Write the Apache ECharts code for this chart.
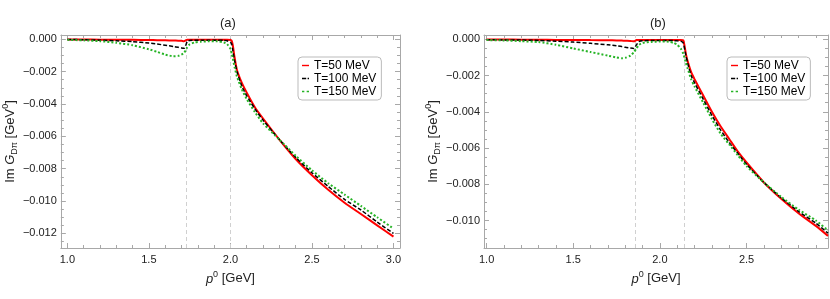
<!DOCTYPE html>
<html><head><meta charset="utf-8">
<script src="https://cdn.jsdelivr.net/npm/echarts@6/dist/echarts.min.js"></script>
<style>html,body{margin:0;padding:0;background:#fff}#c{width:830px;height:299px}</style>
</head><body><div id="c"></div><script>
// ---------- data ----------
const seriesNames = ['T=50 MeV', 'T=100 MeV', 'T=150 MeV'];
const panelTitles = ['(a)', '(b)'];

// panel (a)
const xA = [1.0,1.1,1.2,1.3,1.4,1.5,1.55,1.6,1.65,1.68,1.7,1.715,1.725,1.735,1.75,1.78,1.82,1.87,1.92,1.96,1.98,2.0,2.008,2.015,2.025,2.04,2.07,2.1,2.15,2.2,2.3,2.4,2.5,2.6,2.7,2.8,2.9,3.0];
const redA = [-0.00002,-0.00002,-0.00003,-0.00003,-0.00004,-0.00005,-0.00006,-0.00007,-0.00008,-0.00009,-0.0001,-0.00012,-0.00008,-0.00003,-0.00003,-0.00003,-0.00003,-0.00003,-0.00003,-0.00004,-0.00004,-0.00005,-0.0001,-0.0004,-0.0011,-0.0019,-0.0027,-0.0033,-0.0042,-0.0049,-0.0062,-0.0074,-0.0084,-0.0093,-0.0101,-0.0108,-0.0115,-0.0122];
const blackA = [-0.00002,-0.00003,-0.00006,-0.0001,-0.00015,-0.00024,-0.0003,-0.00037,-0.00045,-0.0005,-0.00054,-0.00056,-0.0004,-0.00015,-0.00008,-0.00007,-0.00006,-0.00006,-0.00006,-0.00007,-0.0001,-0.0002,-0.0003,-0.0007,-0.0013,-0.0020,-0.0029,-0.0035,-0.0043,-0.0050,-0.0062,-0.0073,-0.00825,-0.0091,-0.0099,-0.01055,-0.0113,-0.0120];
const greenA = [-0.00004,-0.00007,-0.00012,-0.00022,-0.00037,-0.00062,-0.00078,-0.00095,-0.00105,-0.00103,-0.00095,-0.00085,-0.0007,-0.0005,-0.00032,-0.0002,-0.00015,-0.00013,-0.00013,-0.0002,-0.0003,-0.0006,-0.0009,-0.0012,-0.0017,-0.0023,-0.0031,-0.0037,-0.0045,-0.0052,-0.0062,-0.0072,-0.0081,-0.0089,-0.0096,-0.0103,-0.0110,-0.0117];
const thresholdsA = [1.725, 2.005];

// panel (b)
const xB = [1.0,1.1,1.2,1.3,1.4,1.5,1.6,1.7,1.75,1.78,1.8,1.83,1.85,1.865,1.88,1.9,1.95,2.0,2.05,2.08,2.1,2.12,2.135,2.15,2.16,2.18,2.2,2.25,2.3,2.35,2.4,2.45,2.5,2.6,2.7,2.8,2.9,2.97];
const redB = [-0.00001,-0.00001,-0.00002,-0.00002,-0.00003,-0.00003,-0.00004,-0.00005,-0.00006,-0.00007,-0.00008,-0.00009,-0.00011,-0.00004,-0.00003,-0.00003,-0.00003,-0.00003,-0.00003,-0.00003,-0.00003,-0.00003,-0.00005,-0.0008,-0.0012,-0.0018,-0.0022,-0.0031,-0.0040,-0.0048,-0.0055,-0.0062,-0.0068,-0.0079,-0.0088,-0.0096,-0.0103,-0.01085];
const blackB = [-0.00002,-0.00003,-0.00004,-0.00006,-0.0001,-0.00015,-0.00022,-0.0003,-0.00036,-0.0004,-0.00044,-0.00048,-0.0005,-0.0003,-0.00012,-0.00008,-0.00006,-0.00006,-0.00006,-0.00007,-0.00008,-0.0001,-0.0002,-0.0009,-0.0013,-0.0020,-0.0024,-0.0033,-0.0042,-0.0050,-0.0057,-0.0063,-0.0069,-0.0079,-0.00875,-0.0095,-0.01015,-0.0107];
const greenB = [-0.00004,-0.00006,-0.0001,-0.00015,-0.0003,-0.0005,-0.0007,-0.0009,-0.001,-0.00104,-0.00102,-0.0009,-0.0007,-0.0005,-0.0003,-0.0002,-0.00014,-0.00012,-0.00013,-0.0002,-0.0003,-0.0005,-0.0008,-0.0013,-0.0016,-0.0022,-0.0026,-0.0035,-0.0044,-0.0052,-0.0058,-0.0064,-0.0070,-0.0079,-0.0087,-0.0094,-0.0100,-0.01055];
const thresholdsB = [1.862, 2.14];

// tick values
const xMajorA = [1.0,1.5,2.0,2.5,3.0];
const xMinorA = [1.1,1.2,1.3,1.4,1.6,1.7,1.8,1.9,2.1,2.2,2.3,2.4,2.6,2.7,2.8,2.9];
const yMajorA = [0,-0.002,-0.004,-0.006,-0.008,-0.010,-0.012];
const yMinorA = [-0.0005,-0.001,-0.0015,-0.0025,-0.003,-0.0035,-0.0045,-0.005,-0.0055,-0.0065,-0.007,-0.0075,-0.0085,-0.009,-0.0095,-0.0105,-0.011,-0.0115,-0.0125];
const xMajorB = [1.0,1.5,2.0,2.5];
const xMinorB = [1.1,1.2,1.3,1.4,1.6,1.7,1.8,1.9,2.1,2.2,2.3,2.4,2.6,2.7,2.8,2.9];
const yMajorB = [0,-0.002,-0.004,-0.006,-0.008,-0.010];
const yMinorB = [-0.0005,-0.001,-0.0015,-0.0025,-0.003,-0.0035,-0.0045,-0.005,-0.0055,-0.0065,-0.007,-0.0075,-0.0085,-0.009,-0.0095,-0.0105,-0.011];

// ---------- chart ----------
const FONT = 'Liberation Sans, Arial, sans-serif';
const AXC = '#a8a8a8';
const TXT = '#222';
const colors = ['#ff0000', '#000000', '#26b426'];
const lineStyles = [
  {width: 2, type: 'solid'},
  {width: 1.5, type: [4, 2]},
  {width: 2, type: [2, 2]}
];
const legendIcons = [
  'path://M0,0H10V2H0Z',
  'path://M0,0H6V2H0Z M8,0H10V2H8Z',
  'path://M0,0H3V2H0Z M6,0H9V2H6Z'
];

const grids = [
  {left: 57, right: 430, top: 35, bottom: 51},
  {left: 484, right: 2, top: 35, bottom: 51}
];
const xRanges = [[0.96, 3.04], [0.985, 2.97]];
const yRanges = [[-0.0129, 0.00026], [-0.01152, 0.00024]];
const xMaj = [xMajorA, xMajorB], xMin = [xMinorA, xMinorB];
const yMaj = [yMajorA, yMajorB], yMin = [yMinorA, yMinorB];

const rich = {
  n: {fontSize: 13, fontFamily: FONT, color: TXT, lineHeight: 18},
  i: {fontSize: 13, fontFamily: FONT, color: TXT, fontStyle: 'italic', lineHeight: 18},
  sup: {fontSize: 9, fontFamily: FONT, color: TXT, verticalAlign: 'top', lineHeight: 10},
  sub: {fontSize: 9, fontFamily: FONT, color: TXT, verticalAlign: 'bottom', lineHeight: 10}
};

function makeX(g) {
  const base = {type: 'value', gridIndex: g, min: xRanges[g][0], max: xRanges[g][1], splitLine: {show: false}};
  const fmt = v => v.toFixed(1);
  return [
    Object.assign({}, base, {position: 'bottom',
      axisLine: {show: true, onZero: false, lineStyle: {color: AXC}},
      axisTick: {show: true, inside: true, length: 5, customValues: xMaj[g], lineStyle: {color: AXC}},
      axisLabel: {show: true, customValues: xMaj[g], formatter: fmt, fontSize: 11, fontFamily: FONT, color: TXT, margin: 6},
      name: '{i|p}{sup|0}{n| [GeV]}', nameLocation: 'middle', nameGap: 20,
      nameTextStyle: {rich: rich}}),
    Object.assign({}, base, {position: 'bottom',
      axisLine: {show: false, onZero: false},
      axisTick: {show: true, inside: true, length: 3, customValues: xMin[g], lineStyle: {color: AXC}},
      axisLabel: {show: false}}),
    Object.assign({}, base, {position: 'top',
      axisLine: {show: true, onZero: false, lineStyle: {color: AXC}},
      axisTick: {show: true, inside: true, length: 5, customValues: xMaj[g], lineStyle: {color: AXC}},
      axisLabel: {show: false}}),
    Object.assign({}, base, {position: 'top',
      axisLine: {show: false, onZero: false},
      axisTick: {show: true, inside: true, length: 3, customValues: xMin[g], lineStyle: {color: AXC}},
      axisLabel: {show: false}})
  ];
}
function makeY(g) {
  const base = {type: 'value', gridIndex: g, min: yRanges[g][0], max: yRanges[g][1], splitLine: {show: false}};
  const fmt = v => (v < -1e-9 ? '\u2212' : '') + Math.abs(v).toFixed(3);
  return [
    Object.assign({}, base, {position: 'left',
      axisLine: {show: true, onZero: false, lineStyle: {color: AXC}},
      axisTick: {show: true, inside: true, length: 5, customValues: yMaj[g], lineStyle: {color: AXC}},
      axisLabel: {show: true, customValues: yMaj[g], formatter: fmt, fontSize: 11, fontFamily: FONT, color: TXT, margin: 4},
      name: '{n|Im }{i|G}{sub|D\u03C0}{n| [GeV}{sup|0}{n|]}', nameLocation: 'middle', nameGap: 38, nameRotate: 90,
      nameTextStyle: {rich: rich}}),
    Object.assign({}, base, {position: 'left',
      axisLine: {show: false, onZero: false},
      axisTick: {show: true, inside: true, length: 3, customValues: yMin[g], lineStyle: {color: AXC}},
      axisLabel: {show: false}}),
    Object.assign({}, base, {position: 'right',
      axisLine: {show: true, onZero: false, lineStyle: {color: AXC}},
      axisTick: {show: true, inside: true, length: 5, customValues: yMaj[g], lineStyle: {color: AXC}},
      axisLabel: {show: false}}),
    Object.assign({}, base, {position: 'right',
      axisLine: {show: false, onZero: false},
      axisTick: {show: true, inside: true, length: 3, customValues: yMin[g], lineStyle: {color: AXC}},
      axisLabel: {show: false}})
  ];
}

const panels = [
  {x: xA, ys: [redA, blackA, greenA], th: thresholdsA},
  {x: xB, ys: [redB, blackB, greenB], th: thresholdsB}
];
const series = [];
panels.forEach((p, g) => {
  p.ys.forEach((ys, k) => {
    const s = {
      type: 'line', name: seriesNames[k], xAxisIndex: g * 4, yAxisIndex: g * 4,
      data: p.x.map((x, i) => [x, ys[i]]), showSymbol: false, symbol: 'none',
      smooth: 0.2,
      lineStyle: Object.assign({color: colors[k]}, lineStyles[k]), itemStyle: {color: colors[k]},
      animation: false, silent: true, z: 3 + k
    };
    if (k === 0) {
      s.markLine = {silent: true, symbol: ['none', 'none'], label: {show: false},
        lineStyle: {color: '#d0d0d0', type: [4, 3], width: 1}, z: 1,
        data: p.th.map(v => ({xAxis: v}))};
    }
    series.push(s);
  });
});

const legendBase = {
  orient: 'vertical', top: 57, itemWidth: 7, itemHeight: 2, itemGap: 0,
  padding: [2, 5, 2, 4], backgroundColor: '#fff', borderColor: '#bbb', borderWidth: 1, borderRadius: 4,
  textStyle: {fontSize: 12, fontFamily: FONT, color: '#000', lineHeight: 13},
  data: seriesNames.map((n, k) => ({name: n, icon: legendIcons[k], itemStyle: {color: colors[k]}})),
  selectedMode: false
};

const option = {
  backgroundColor: '#fff',
  animation: false,
  title: panelTitles.map((t, g) => ({text: t, left: g === 0 ? 220 : 650, top: 17, padding: 0,
    textStyle: {fontSize: 13, fontWeight: 'normal', fontFamily: FONT, color: TXT}})),
  grid: grids,
  xAxis: [].concat(makeX(0), makeX(1)),
  yAxis: [].concat(makeY(0), makeY(1)),
  legend: [Object.assign({}, legendBase, {left: 298}), Object.assign({}, legendBase, {left: 727})],
  series: series
};
const chart = echarts.init(document.getElementById('c'), null, {renderer: 'canvas'});
chart.setOption(option);
</script></body></html>
